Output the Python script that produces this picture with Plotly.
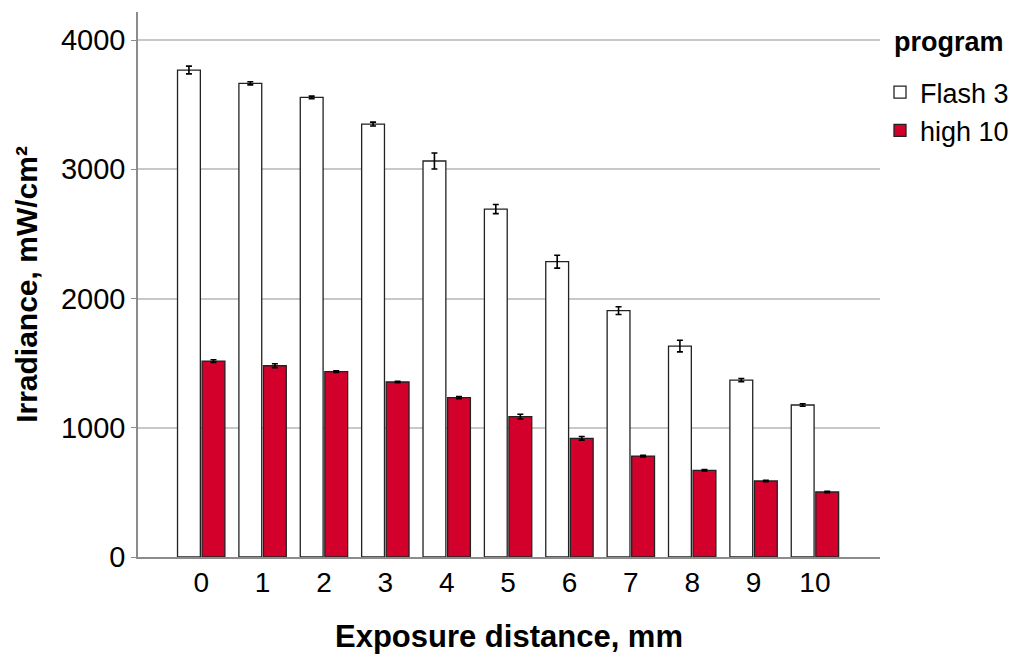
import plotly.graph_objects as go

distances = ["0", "1", "2", "3", "4", "5", "6", "7", "8", "9", "10"]
flash3 = [3768, 3665, 3556, 3350, 3064, 2692, 2285, 1906, 1632, 1369, 1176]
flash3_err = [30, 12, 10, 15, 62, 35, 50, 30, 45, 12, 10]
high10 = [1516, 1480, 1434, 1354, 1233, 1086, 918, 781, 671, 588, 503]
high10_err = [10, 15, 6, 6, 8, 18, 14, 6, 5, 5, 5]

FONT = "Liberation Sans, Arial, sans-serif"

fig = go.Figure()
fig.add_trace(go.Bar(
    name="Flash 3", x=distances, y=flash3,
    marker=dict(color="white", line=dict(color="#222222", width=1.3)),
    error_y=dict(type="data", array=flash3_err, color="black", thickness=1.6, width=3),
))
fig.add_trace(go.Bar(
    name="high 10", x=distances, y=high10,
    marker=dict(color="#d3002b", line=dict(color="#222222", width=1.3)),
    error_y=dict(type="data", array=high10_err, color="black", thickness=1.6, width=3),
))

fig.update_layout(
    width=1017, height=661,
    margin=dict(l=138, r=137, t=12, b=104, autoexpand=False),
    paper_bgcolor="white", plot_bgcolor="white",
    barmode="group", bargap=0.2, bargroupgap=0.07,
    font=dict(family=FONT, color="black"),
    legend=dict(
        font=dict(size=27, family=FONT),
        x=1.0, xanchor="left", y=0.897, yanchor="top",
        tracegroupgap=0, itemwidth=30,
        bgcolor="rgba(0,0,0,0)",
    ),
    showlegend=True,
    annotations=[dict(
        text="<b>program</b>", xref="paper", yref="paper",
        x=1.016, y=0.945, xanchor="left", yanchor="middle",
        showarrow=False, font=dict(size=27, family=FONT, color="black"),
    )],
)

fig.update_xaxes(
    type="category", range=[-1.03, 11.06],
    showline=True, linecolor="#8c8c8c", linewidth=1.5,
    ticks="", showgrid=False,
    tickfont=dict(size=28, family=FONT, color="black"),
    title=dict(text="<b>Exposure distance, mm</b>", font=dict(size=31, family=FONT), standoff=28),
)
fig.update_yaxes(
    range=[0, 4217], tickvals=[0, 1000, 2000, 3000, 4000],
    showline=True, linecolor="#8c8c8c", linewidth=1.5,
    ticks="outside", ticklen=5, tickcolor="#8c8c8c",
    showgrid=True, gridcolor="#c8c8c8", gridwidth=1.5,
    zeroline=False,
    tickfont=dict(size=29, family=FONT, color="black"),
    title=dict(text="<b>Irradiance, mW/cm²</b>", font=dict(size=30, family=FONT), standoff=14),
)

fig.write_html("out.html")
